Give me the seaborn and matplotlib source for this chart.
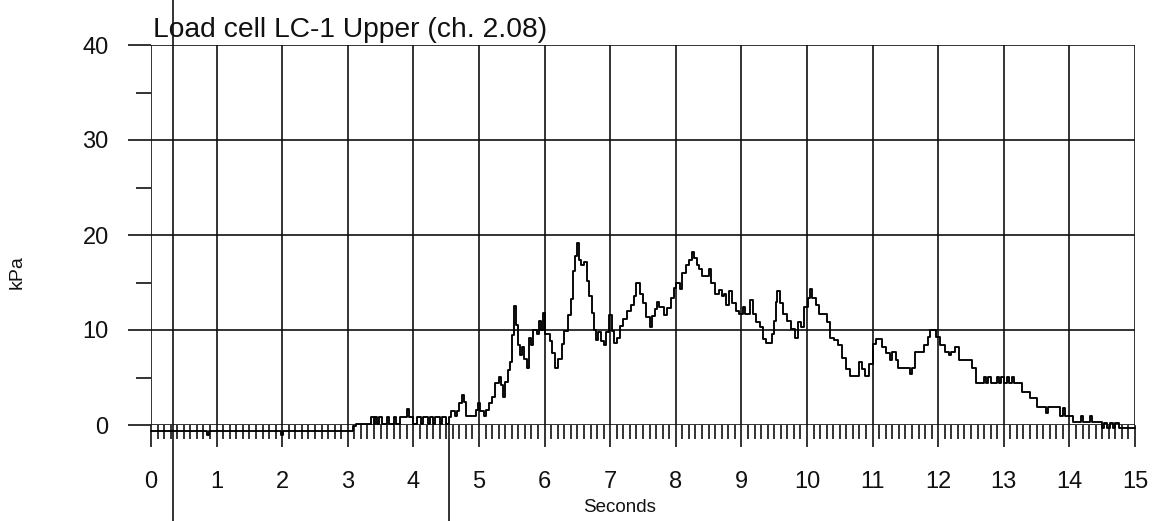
import matplotlib
matplotlib.use("Agg")
import matplotlib.pyplot as plt
import numpy as np
import pandas as pd
import seaborn as sns

# Load cell LC-1 Upper, channel 2.08: time (s) and pressure (kPa), step-sampled
time_s = [
    0.00, 0.85, 0.88, 1.98, 2.01, 3.08, 3.12, 3.35, 3.40, 3.42, 3.45, 3.48, 3.52,
    3.60, 3.63, 3.70, 3.73, 3.80, 3.88, 3.90, 3.94, 4.00, 4.05, 4.12, 4.15, 4.22,
    4.25, 4.30, 4.33, 4.40, 4.44, 4.50, 4.54, 4.58, 4.64, 4.66, 4.70, 4.74, 4.77,
    4.80, 4.95, 4.99, 5.02, 5.08, 5.11, 5.15, 5.20, 5.24, 5.30, 5.34, 5.37, 5.40,
    5.44, 5.47, 5.50, 5.53, 5.56, 5.59, 5.62, 5.65, 5.69, 5.73, 5.76, 5.80, 5.83,
    5.88, 5.92, 5.95, 5.98, 6.01, 6.08, 6.12, 6.16, 6.21, 6.26, 6.30, 6.35, 6.40,
    6.43, 6.47, 6.50, 6.53, 6.56, 6.60, 6.64, 6.68, 6.72, 6.75, 6.79, 6.82, 6.86,
    6.90, 6.94, 6.98, 7.02, 7.06, 7.10, 7.15, 7.20, 7.26, 7.31, 7.36, 7.40, 7.46,
    7.50, 7.54, 7.60, 7.64, 7.68, 7.71, 7.74, 7.82, 7.86, 7.93, 7.97, 8.00, 8.06,
    8.10, 8.15, 8.20, 8.24, 8.28, 8.32, 8.36, 8.40, 8.48, 8.50, 8.53, 8.60, 8.66,
    8.70, 8.74, 8.77, 8.81, 8.85, 8.92, 8.97, 9.02, 9.05, 9.13, 9.17, 9.23, 9.28,
    9.33, 9.38, 9.46, 9.49, 9.52, 9.55, 9.59, 9.64, 9.70, 9.75, 9.81, 9.86, 9.91,
    9.96, 10.01, 10.04, 10.08, 10.13, 10.19, 10.30, 10.35, 10.41, 10.48, 10.54,
    10.59, 10.66, 10.80, 10.84, 10.89, 10.95, 11.01, 11.05, 11.14, 11.20, 11.26,
    11.30, 11.35, 11.39, 11.57, 11.60, 11.64, 11.78, 11.84, 11.88, 11.96, 12.02,
    12.10, 12.16, 12.20, 12.26, 12.32, 12.52, 12.58, 12.70, 12.73, 12.76, 12.80,
    12.90, 12.93, 12.96, 13.00, 13.05, 13.08, 13.12, 13.15, 13.22, 13.28, 13.40,
    13.50, 13.65, 13.68, 13.85, 13.90, 13.93, 14.05, 14.18, 14.21, 14.31, 14.34,
    14.50, 14.53, 14.58, 14.62, 14.66, 14.70, 14.75, 15.00,
]
pressure_kpa = [
    -0.6, -1.0, -0.6, -1.0, -0.6, -0.1, 0.1, 0.8, 0.1, 0.8, 0.1, 0.8, 0.1,
    0.8, 0.1, 0.8, 0.1, 0.8, 0.8, 1.7, 0.8, 0.1, 0.8, 0.1, 0.8, 0.1,
    0.8, 0.1, 0.8, 0.1, 0.8, 0.1, 0.8, 1.5, 0.9, 1.5, 2.3, 3.2, 2.4,
    0.9, 1.6, 2.3, 1.5, 0.9, 1.6, 2.3, 3.0, 4.4, 5.1, 4.2, 3.0, 4.5,
    5.8, 6.6, 9.5, 12.5, 10.5, 8.4, 7.4, 8.2, 7.0, 6.0, 9.2, 8.4, 10.0,
    9.6, 11.0, 10.0, 11.8, 9.6, 8.8, 7.6, 6.0, 7.0, 8.5, 9.9, 11.6, 13.3,
    16.2, 17.8, 19.2, 17.4, 16.8, 17.2, 15.2, 13.6, 11.8, 10.0, 9.0, 9.8, 8.8,
    8.4, 9.8, 11.6, 9.9, 8.6, 9.2, 10.4, 11.2, 12.0, 12.6, 13.6, 15.0, 13.8,
    12.8, 11.4, 10.3, 11.5, 12.2, 13.0, 12.4, 11.6, 12.3, 13.4, 14.4, 15.0, 14.3,
    16.0, 16.8, 17.4, 18.2, 17.6, 16.8, 16.4, 15.7, 15.7, 16.4, 15.0, 13.8, 14.2,
    13.6, 13.8, 12.6, 14.1, 12.8, 12.0, 11.7, 12.4, 11.7, 13.2, 11.7, 10.8, 10.3,
    9.1, 8.6, 9.6, 11.0, 13.0, 14.1, 12.8, 11.7, 11.0, 10.1, 9.2, 10.8, 10.3,
    12.4, 13.4, 14.3, 13.4, 12.6, 11.7, 10.8, 9.2, 8.9, 8.4, 7.1,
    5.9, 5.2, 6.6, 5.9, 5.2, 6.4, 8.5, 9.1, 8.2, 7.6, 6.8,
    7.7, 6.8, 6.0, 5.4, 6.0, 7.7, 8.4, 9.3, 10.0, 9.3, 8.4,
    7.7, 7.4, 7.7, 8.2, 6.8, 6.0, 4.4, 5.1, 4.4, 5.1, 4.4,
    5.1, 4.4, 5.1, 4.4, 5.1, 4.4, 5.1, 4.4, 4.4, 3.5, 2.8,
    1.9, 1.3, 1.9, 1.0, 1.8, 1.0, 0.3, 1.0, 0.3, 1.0, 0.3,
    -0.3, 0.2, -0.3, 0.2, -0.3, 0.2, -0.3, -0.3,
]

# Cursor markers (s)
cursor_a = 0.335
cursor_b = 4.54

x_ticks = list(range(0, 16))
y_major = [0, 10, 20, 30, 40]
y_minor = [5, 15, 25, 35]
x_minor = [i / 10 for i in range(0, 151)]

title = "Load cell LC-1 Upper (ch. 2.08)"
x_label = "Seconds"
y_label = "kPa"

sns.set_style("white")
plt.rcParams["font.family"] = ["Liberation Sans", "DejaVu Sans"]

W, H = 1157, 521
fig = plt.figure(figsize=(W / 100, H / 100), dpi=100)
ax = fig.add_axes([151 / W, 1 - 425 / H, (1135 - 151) / W, 380 / H])

df = pd.DataFrame({"t": time_s, "p": pressure_kpa})
sns.lineplot(data=df, x="t", y="p", ax=ax, estimator=None, sort=False,
             drawstyle="steps-post", color="black", linewidth=1.35,
             clip_on=False, zorder=5)

ax.set_xlim(0, 15)
ax.set_ylim(0, 40)

ink = "#111111"
grid_kw = dict(color=ink, linewidth=1.2)
for xv in x_ticks:
    ax.axvline(xv, **grid_kw, zorder=2)
for yv in y_major:
    ax.axhline(yv, **grid_kw, zorder=2)

for s in ax.spines.values():
    s.set_visible(False)

ax.set_xticks(x_ticks)
ax.set_xticks(x_minor, minor=True)
ax.set_yticks(y_major)
ax.set_yticks(y_minor, minor=True)
ax.tick_params(axis="x", which="major", direction="out", length=16, width=1.2,
               color=ink, labelsize=17, pad=17, bottom=True, labelcolor=ink)
ax.tick_params(axis="x", which="minor", direction="out", length=10, width=1.2,
               color=ink, bottom=True)
ax.tick_params(axis="y", which="major", direction="out", length=16.5, width=1.2,
               color=ink, labelsize=17, pad=14, left=True, labelcolor=ink)
ax.tick_params(axis="y", which="minor", direction="out", length=11, width=1.2,
               color=ink, left=True)
ax.set_xticklabels([str(v) for v in x_ticks])
ax.set_yticklabels([str(v) for v in y_major])
ax.set_xlabel("")
ax.set_ylabel("")

# cursor lines
y_lo = -(521 - 425) / 380
y_hi = 425 / 380
ax.axvline(cursor_a, ymin=y_lo, ymax=y_hi, color=ink, linewidth=1.2,
           clip_on=False, zorder=3)
ax.axvline(cursor_b, ymin=y_lo, ymax=0, color=ink, linewidth=1.2,
           clip_on=False, zorder=3)

fig.text(153 / W, 1 - 37 / H, title, ha="left", va="baseline", fontsize=20.3,
         color=ink)
fig.text(620 / W, 1 - 508 / H, x_label, ha="center", va="center", fontsize=13.5,
         color=ink)
fig.text(17 / W, 1 - 272 / H, y_label, ha="center", va="center", fontsize=14,
         rotation=90, color=ink)

fig.savefig("out.png", dpi=100)
